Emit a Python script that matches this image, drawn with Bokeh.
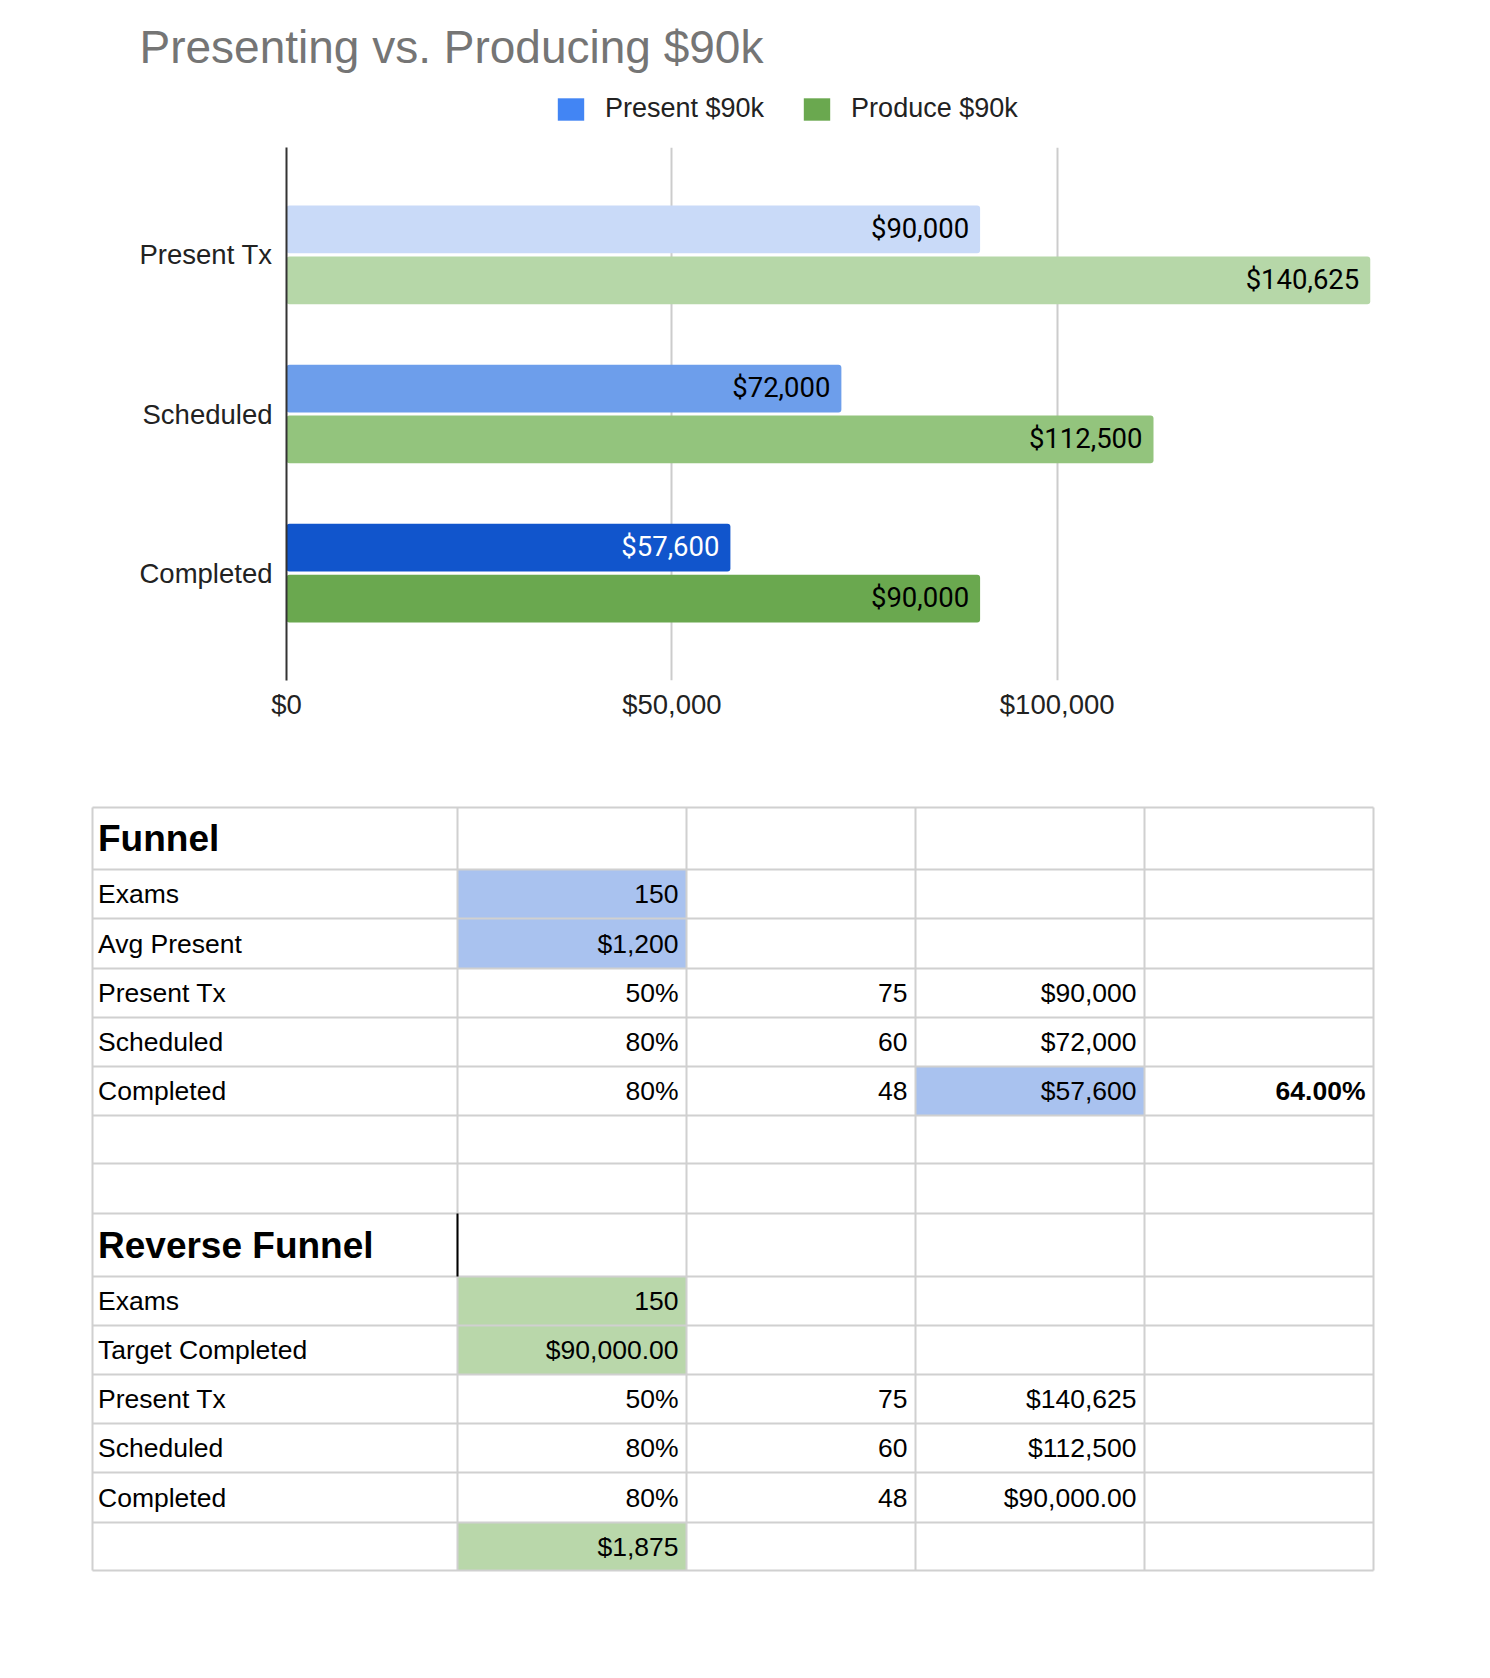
from bokeh.plotting import figure
from bokeh.models import (ColumnDataSource, FactorRange, Range1d, FixedTicker,
                          NumeralTickFormatter, Label, Legend, LegendItem)
from bokeh.transform import dodge
from bokeh.core.properties import value
from bokeh.embed import file_html
from bokeh.resources import INLINE

# ---------------- chart data ----------------
chart_title = "Presenting vs. Producing $90k"
stages = ["Present Tx", "Scheduled", "Completed"]
present_90k = [90000, 72000, 57600]
produce_90k = [140625, 112500, 90000]
series_names = ["Present $90k", "Produce $90k"]
x_ticks = [0, 50000, 100000, 150000]

# ---------------- table data ----------------
funnel_title = "Funnel"
funnel_labels = ["Exams", "Avg Present", "Present Tx", "Scheduled", "Completed"]
funnel_rates = ["150", "$1,200", "50%", "80%", "80%"]
funnel_counts = ["", "", "75", "60", "48"]
funnel_values = ["", "", "$90,000", "$72,000", "$57,600"]
funnel_share = ["", "", "", "", "64.00%"]

reverse_title = "Reverse Funnel"
reverse_labels = ["Exams", "Target Completed", "Present Tx", "Scheduled", "Completed", ""]
reverse_rates = ["150", "$90,000.00", "50%", "80%", "80%", "$1,875"]
reverse_counts = ["", "", "75", "60", "48", ""]
reverse_values = ["", "", "$140,625", "$112,500", "$90,000.00", ""]

# ---------------- styles ----------------
present_colors = ["#c9daf8", "#6d9eeb", "#1155cc"]
produce_colors = ["#b6d7a8", "#93c47d", "#6aa84f"]
present_text_colors = ["#000000", "#000000", "#ffffff"]
produce_text_colors = ["#000000", "#000000", "#000000"]
legend_colors = ["#4285f4", "#6aa84f"]
ARIAL = "Liberation Sans"
W = 1490

# ---------------- header (title + legend) ----------------
HH = 147
h = figure(width=W, height=HH, x_range=Range1d(0, W), y_range=Range1d(HH, 0),
           x_axis_type=None, y_axis_type=None, output_backend="svg",
           toolbar_location=None, min_border=0)
h.grid.visible = False
h.outline_line_color = None
h.add_layout(Label(x=139, y=46, text=chart_title, text_font=ARIAL, text_font_size="46px",
                   text_color="#757575", text_baseline="alphabetic"))
# zero-size marks that only carry the legend swatch colours
r_leg1 = h.quad(left=[0], right=[0], top=[0], bottom=[0], fill_color=legend_colors[0], line_color=None)
r_leg2 = h.quad(left=[0], right=[0], top=[0], bottom=[0], fill_color=legend_colors[1], line_color=None)
legend = Legend(items=[LegendItem(label=series_names[0], renderers=[r_leg1]),
                       LegendItem(label=series_names[1], renderers=[r_leg2])],
                location=(554, HH - 124), orientation="horizontal", padding=0, margin=0,
                spacing=36, glyph_width=33, glyph_height=28, label_height=28,
                label_standoff=18, label_text_font=ARIAL, label_text_font_size="27px",
                label_text_color="#222222", border_line_color=None,
                background_fill_alpha=0)
h.add_layout(legend)

# ---------------- chart ----------------
p = figure(width=W, height=623,
           y_range=FactorRange(factors=stages[::-1], range_padding=0.1167),
           x_range=Range1d(0, 150000),
           output_backend="svg", toolbar_location=None,
           min_border_left=286, min_border_right=48,
           min_border_top=0, min_border_bottom=90)
p.outline_line_color = None

src = ColumnDataSource(dict(
    stage=stages, present=present_90k, produce=produce_90k,
    present_color=present_colors, produce_color=produce_colors,
    present_label=[f"${v:,.0f}" for v in present_90k],
    produce_label=[f"${v:,.0f}" for v in produce_90k],
    present_tc=present_text_colors, produce_tc=produce_text_colors))

p.hbar(y=dodge("stage", 0.16, range=p.y_range), left=0, right="present", height=0.3,
       fill_color="present_color", line_color=None, border_radius=3, source=src)
p.hbar(y=dodge("stage", -0.16, range=p.y_range), left=0, right="produce", height=0.3,
       fill_color="produce_color", line_color=None, border_radius=3, source=src)

p.text(x="present", y=dodge("stage", 0.16, range=p.y_range), text="present_label",
       x_offset=-11, y_offset=-1, text_align="right", text_baseline="middle",
       text_color="present_tc", text_font=value("Roboto"), text_font_size="27.5px", source=src)
p.text(x="produce", y=dodge("stage", -0.16, range=p.y_range), text="produce_label",
       x_offset=-11, y_offset=-1, text_align="right", text_baseline="middle",
       text_color="produce_tc", text_font=value("Roboto"), text_font_size="27.5px", source=src)

p.xaxis.ticker = FixedTicker(ticks=x_ticks)
p.xaxis.formatter = NumeralTickFormatter(format="$0,0")
p.xaxis.major_label_overrides = {150000: ""}
p.xaxis.axis_line_color = None
p.xaxis.major_tick_line_color = None
p.xaxis.minor_tick_line_color = None
p.xaxis.major_tick_out = 0
p.xaxis.major_label_standoff = 8
p.xaxis.major_label_text_font = ARIAL
p.xaxis.major_label_text_font_size = "27.5px"
p.xaxis.major_label_text_color = "#222222"

p.yaxis.axis_line_color = "#333333"
p.yaxis.axis_line_width = 2
p.yaxis.major_tick_line_color = None
p.yaxis.minor_tick_line_color = None
p.yaxis.major_tick_out = 0
p.yaxis.major_label_standoff = 14
p.yaxis.major_label_text_font = ARIAL
p.yaxis.major_label_text_font_size = "27.5px"
p.yaxis.major_label_text_color = "#222222"

p.xgrid.grid_line_color = "#cccccc"
p.xgrid.grid_line_width = 2
p.ygrid.grid_line_color = None

# ---------------- table ----------------
TH = 900
T0 = 770  # page y where the table canvas starts
t = figure(width=W, height=TH, x_range=Range1d(0, W), y_range=Range1d(TH, 0),
           x_axis_type=None, y_axis_type=None, output_backend="svg",
           toolbar_location=None, min_border=0)
t.grid.visible = False
t.outline_line_color = None

col_edges = [92, 457, 686, 915, 1144, 1373]
row_edges = [y - T0 for y in [807, 869, 918, 968, 1017, 1066, 1115, 1163, 1213,
                              1276, 1325, 1374, 1423, 1472, 1522, 1570]]

rows = [[funnel_title, "", "", "", ""]]
for i in range(len(funnel_labels)):
    rows.append([funnel_labels[i], funnel_rates[i], funnel_counts[i], funnel_values[i], funnel_share[i]])
rows.append(["", "", "", "", ""])
rows.append(["", "", "", "", ""])
rows.append([reverse_title, "", "", "", ""])
for i in range(len(reverse_labels)):
    rows.append([reverse_labels[i], reverse_rates[i], reverse_counts[i], reverse_values[i], ""])
header_rows = {0, 8}
bold_cells = {(5, 4)}
BLUE_FILL = "#a9c2ef"
GREEN_FILL = "#b9d7aa"
fills = [(1, 1, BLUE_FILL), (2, 1, BLUE_FILL), (5, 3, BLUE_FILL),
         (9, 1, GREEN_FILL), (10, 1, GREEN_FILL), (14, 1, GREEN_FILL)]

t.quad(left=[col_edges[c] for r, c, _ in fills], right=[col_edges[c + 1] for r, c, _ in fills],
       top=[row_edges[r] for r, c, _ in fills], bottom=[row_edges[r + 1] for r, c, _ in fills],
       fill_color=[f for _, _, f in fills], line_color=None)

gx0, gy0, gx1, gy1 = [], [], [], []
for y in row_edges:
    gx0.append(col_edges[0]); gx1.append(col_edges[-1]); gy0.append(y); gy1.append(y)
for x in col_edges:
    gx0.append(x); gx1.append(x); gy0.append(row_edges[0]); gy1.append(row_edges[-1])
t.segment(x0=gx0, y0=gy0, x1=gx1, y1=gy1, line_color="#d0d0d0", line_width=2)
t.segment(x0=[col_edges[1]], y0=[row_edges[8]], x1=[col_edges[1]], y1=[row_edges[9]],
          line_color="#000000", line_width=2)

groups = {"left": ([], [], []), "right": ([], [], []), "head": ([], [], []), "bold": ([], [], [])}
for r, row in enumerate(rows):
    yc = (row_edges[r] + row_edges[r + 1]) / 2
    for c, txt in enumerate(row):
        if not txt:
            continue
        if r in header_rows:
            g = "head"
        elif (r, c) in bold_cells:
            g = "bold"
        elif c == 0:
            g = "left"
        else:
            g = "right"
        x = col_edges[0] + 5.5 if c == 0 else col_edges[c + 1] - 8
        groups[g][0].append(x); groups[g][1].append(yc); groups[g][2].append(txt)

t.text(x=groups["left"][0], y=groups["left"][1], text=groups["left"][2], text_align="left",
       text_baseline="middle", text_font=value(ARIAL), text_font_size="26.5px", text_color="#000000")
t.text(x=groups["right"][0], y=groups["right"][1], text=groups["right"][2], text_align="right",
       text_baseline="middle", text_font=value(ARIAL), text_font_size="26.5px", text_color="#000000")
t.text(x=groups["head"][0], y=groups["head"][1], text=groups["head"][2], text_align="left",
       text_baseline="middle", text_font=value(ARIAL), text_font_size="37px",
       text_font_style="bold", text_color="#000000")
t.text(x=groups["bold"][0], y=groups["bold"][1], text=groups["bold"][2], text_align="right",
       text_baseline="middle", text_font=value(ARIAL), text_font_size="26.5px",
       text_font_style="bold", text_color="#000000")

open("out.html", "w").write(file_html([h, p, t], INLINE))
